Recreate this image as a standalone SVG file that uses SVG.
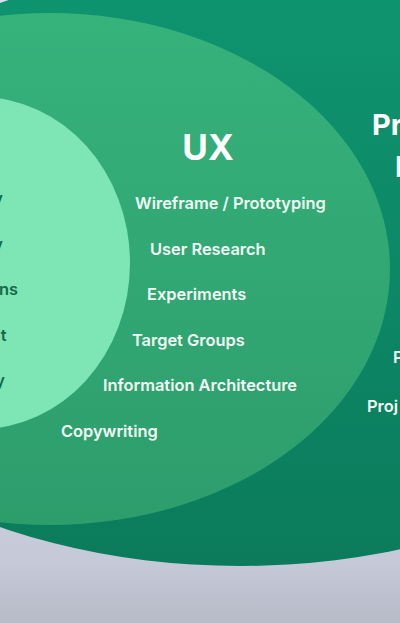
<svg xmlns="http://www.w3.org/2000/svg" width="400" height="623" viewBox="0 0 400 623">
  <defs>
    <linearGradient id="bg" x1="0" y1="0" x2="0" y2="1">
      <stop offset="0" stop-color="#dcdcee"/>
      <stop offset="0.9" stop-color="#c6c9d7"/>
      <stop offset="1" stop-color="#b7bbc8"/>
    </linearGradient>
    <linearGradient id="outerG" x1="0" y1="0" x2="0" y2="1">
      <stop offset="0" stop-color="#0f9571"/>
      <stop offset="1" stop-color="#0b7b5b"/>
    </linearGradient>
    <linearGradient id="midG" x1="0" y1="0" x2="0" y2="1">
      <stop offset="0" stop-color="#36b27b"/>
      <stop offset="1" stop-color="#2d9d6c"/>
    </linearGradient>
    <style>
      .item { font-family: Inter, "Liberation Sans", sans-serif; font-weight: 600; font-size: 16.4px; fill: #f2fbf6; }
      .inner { font-family: Inter, "Liberation Sans", sans-serif; font-weight: 600; font-size: 16.4px; fill: #13694b; }
      .title { font-family: Inter, "Liberation Sans", sans-serif; font-weight: 700; fill: #ffffff; }
    </style>
  </defs>
  <rect x="0" y="0" width="400" height="623" fill="url(#bg)"/>

  <g id="outer-circle">
    <ellipse cx="240" cy="265" rx="488" ry="301" fill="url(#outerG)"/>
    <text class="title" x="372" y="135" font-size="29">Pr</text>
    <text class="title" x="395" y="177" font-size="29">I</text>
    <text class="item" x="393" y="363">P</text>
    <text class="item" x="367" y="412">Proj</text>
  </g>

  <g id="ux-circle">
    <ellipse cx="50" cy="269" rx="340" ry="256" fill="url(#midG)"/>
    <text class="title" x="208" y="160" font-size="35" text-anchor="middle">UX</text>
    <text class="item" x="135" y="209">Wireframe / Prototyping</text>
    <text class="item" x="150" y="254.5">User Research</text>
    <text class="item" x="147" y="300">Experiments</text>
    <text class="item" x="132" y="345.5">Target Groups</text>
    <text class="item" x="103" y="391">Information Architecture</text>
    <text class="item" x="61" y="436.5">Copywriting</text>
  </g>

  <g id="inner-circle">
    <ellipse cx="-20" cy="263" rx="150" ry="166" fill="#7de6b4"/>
    <text class="inner" x="3" y="204" text-anchor="end">y</text>
    <text class="inner" x="3" y="249.5" text-anchor="end">y</text>
    <text class="inner" x="18" y="295" text-anchor="end">ns</text>
    <text class="inner" x="6.5" y="340.5" text-anchor="end">t</text>
    <text class="inner" x="5" y="386" text-anchor="end">y</text>
  </g>
</svg>
